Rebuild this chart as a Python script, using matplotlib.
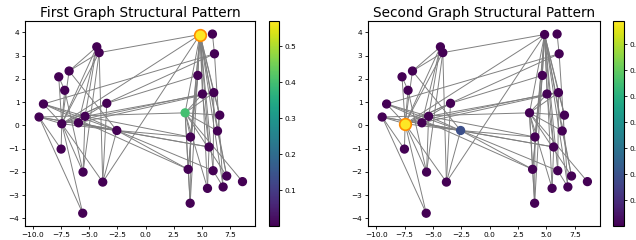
import matplotlib
matplotlib.use("Agg")
import matplotlib.pyplot as plt
from matplotlib.colors import Normalize
from matplotlib.cm import ScalarMappable

# node layout (same positions in both graphs)
node_x = [4.84, 5.94, -4.34, -4.13, 6.12, -6.8, -7.72, 4.64, -7.19, 5.05, 6.06, -9.08,
          -3.45, 3.51, -9.47, -5.38, 6.59, -7.45, -5.97, -2.56, 6.39, 3.99, -7.51, 5.64,
          3.78, 6.0, -5.56, 7.21, -3.81, 8.61, 5.5, 6.89, 3.96, -5.59]
node_y = [3.91, 3.93, 3.38, 3.13, 3.08, 2.34, 2.09, 2.15, 1.51, 1.35, 1.41, 0.92,
          0.95, 0.54, 0.36, 0.39, 0.44, 0.07, 0.11, -0.22, -0.24, -0.5, -1.02, -0.93,
          -1.89, -1.95, -2.01, -2.18, -2.44, -2.42, -2.71, -2.65, -3.35, -3.78]

# edges, 1-based node numbers
edges = [(1, 4), (1, 8), (1, 10), (1, 11), (1, 14), (1, 17), (1, 21), (1, 22), (1, 24),
         (1, 25), (1, 26), (1, 28), (1, 31), (1, 32), (1, 33), (1, 29), (1, 18),
         (5, 18), (10, 18), (11, 16), (11, 19), (8, 13), (5, 12),
         (15, 14), (12, 20), (15, 20), (16, 20), (18, 20), (19, 20), (20, 24), (20, 22),
         (20, 25), (12, 25), (15, 24), (20, 26), (16, 22),
         (14, 22), (14, 25), (14, 33), (14, 17), (14, 21), (14, 31), (14, 30), (14, 28),
         (14, 11), (14, 10), (22, 33), (25, 33), (10, 11), (11, 17), (17, 21), (21, 28),
         (24, 31), (26, 32), (8, 25), (8, 22), (2, 5), (5, 32), (11, 26), (10, 24),
         (3, 4), (3, 6), (4, 6), (3, 18), (3, 19), (3, 16), (4, 18), (4, 27), (4, 29),
         (6, 20), (6, 18), (7, 9), (7, 18), (9, 18), (9, 27), (12, 16), (12, 18),
         (15, 18), (15, 34), (15, 23), (13, 18), (13, 29), (13, 16), (16, 18), (18, 27),
         (18, 29), (18, 34), (18, 23), (19, 20), (16, 27), (20, 29)]

# node scores for each graph, highlighted node = the top one
values_first = [0.57, 0, 0, 0, 0, 0, 0, 0, 0, 0, 0, 0, 0, 0.40, 0, 0, 0, 0, 0, 0,
                0, 0, 0, 0, 0, 0, 0, 0, 0, 0, 0, 0, 0, 0]
values_second = [0, 0, 0, 0, 0, 0, 0, 0, 0, 0, 0, 0, 0, 0, 0, 0, 0, 0.79, 0, 0.19,
                 0, 0, 0, 0, 0, 0, 0, 0, 0, 0, 0, 0, 0, 0]
titles = ['First Graph Structural Pattern', 'Second Graph Structural Pattern']
cbar_ticks = [[0.1, 0.2, 0.3, 0.4, 0.5], [0.1, 0.2, 0.3, 0.4, 0.5, 0.6, 0.7]]


def draw_graph(ax, cax, values, title, ticks):
    for a, b in edges:
        ax.plot([node_x[a - 1], node_x[b - 1]], [node_y[a - 1], node_y[b - 1]],
                color='gray', lw=0.7, zorder=1)
    norm = Normalize(vmin=min(values), vmax=max(values))
    top = values.index(max(values))
    others = [i for i in range(len(values)) if i != top]
    ax.scatter([node_x[i] for i in others], [node_y[i] for i in others],
               c=[values[i] for i in others], cmap='viridis', norm=norm, s=32, zorder=2)
    ax.scatter([node_x[top]], [node_y[top]], c=[values[top]], cmap='viridis', norm=norm,
               s=70, edgecolors='darkorange', linewidths=1.2, zorder=3)
    ax.set_xlim(-10.72, 9.72)
    ax.set_ylim(-4.33, 4.5)
    ax.set_title(title, fontsize=9.8, pad=3)
    ax.tick_params(labelsize=5.3, length=2.5, width=0.6, pad=1.5)
    for s in ax.spines.values():
        s.set_linewidth(0.8)
    cb = plt.colorbar(ScalarMappable(norm=norm, cmap='viridis'), cax=cax)
    cb.set_ticks(ticks)
    cb.ax.tick_params(labelsize=5.3, length=2.5, width=0.6, pad=1.5)
    cb.outline.set_linewidth(0.8)


fig = plt.figure(figsize=(6.36, 2.4), dpi=100)
ax1 = fig.add_axes([0.0393, 0.0583, 0.3616, 0.855])
cax1 = fig.add_axes([0.423, 0.0583, 0.0157, 0.855])
ax2 = fig.add_axes([0.5786, 0.0583, 0.3648, 0.855])
cax2 = fig.add_axes([0.9638, 0.0583, 0.0173, 0.855])

draw_graph(ax1, cax1, values_first, titles[0], cbar_ticks[0])
draw_graph(ax2, cax2, values_second, titles[1], cbar_ticks[1])

fig.savefig('out.png', dpi=100)
